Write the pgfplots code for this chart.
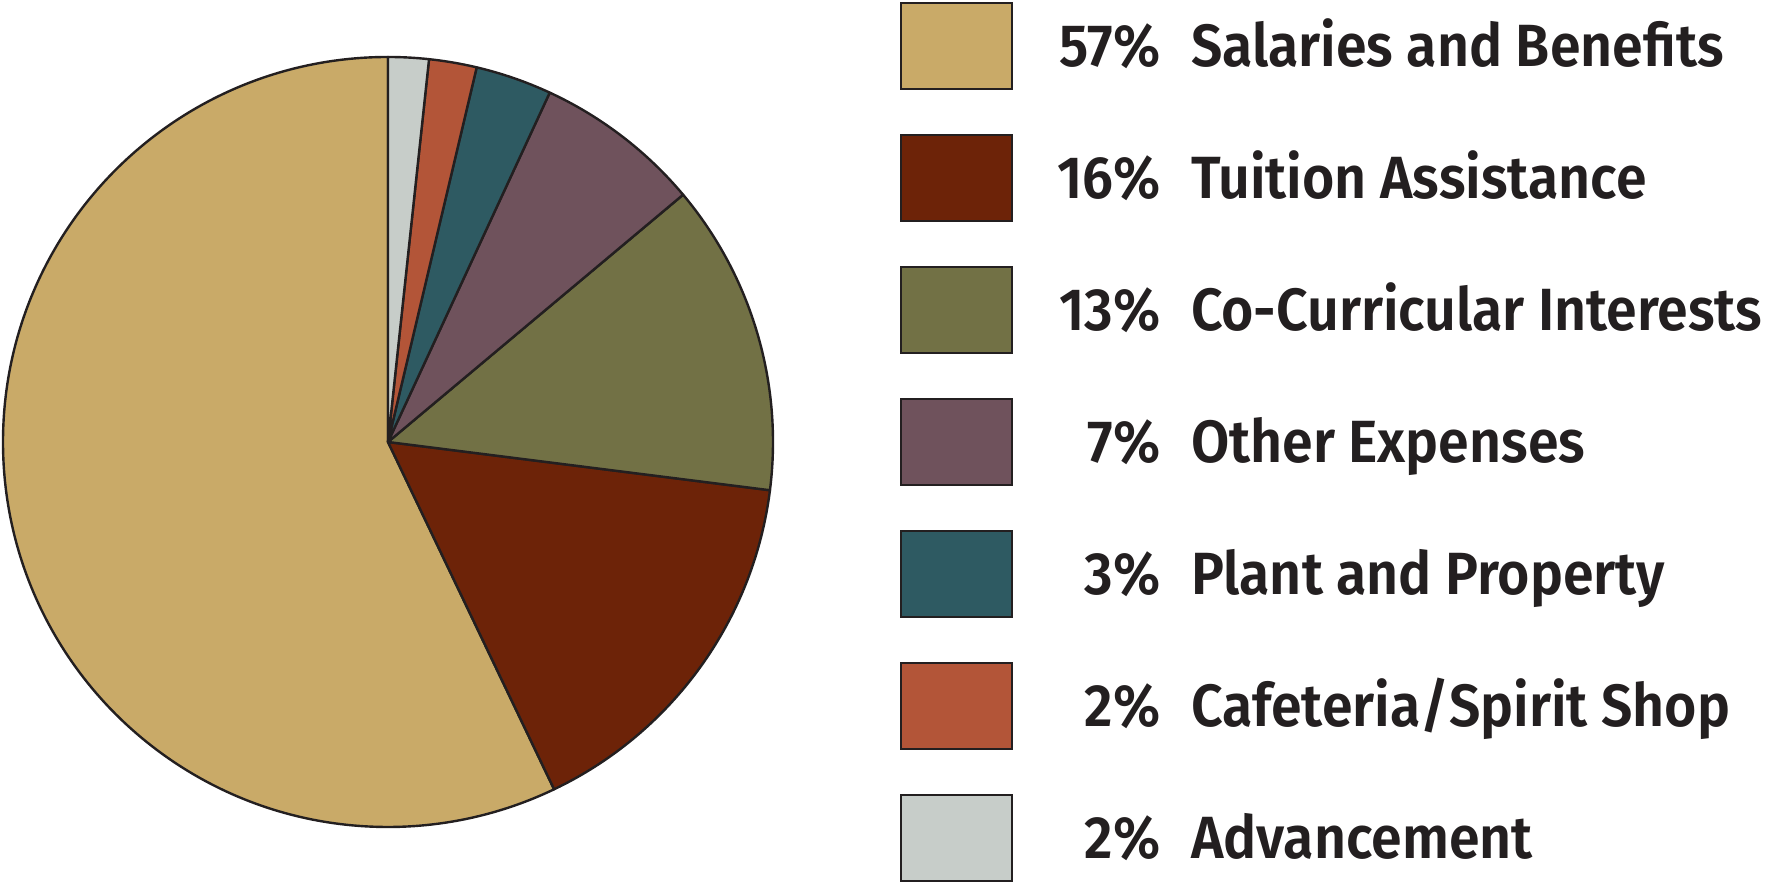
\documentclass[border=0pt]{standalone}
\usepackage{pgfplots}
\pgfplotsset{compat=1.18}
\usepackage{pgfplotstable}
\usepackage{fontspec}
\setmainfont{Fira Sans SemiBold}[FakeStretch=0.93]

\definecolor{salC}{HTML}{C9AA68}
\definecolor{tuiC}{HTML}{6D2308}
\definecolor{cocC}{HTML}{727145}
\definecolor{othC}{HTML}{6F525C}
\definecolor{plaC}{HTML}{2E5A62}
\definecolor{cafC}{HTML}{B35538}
\definecolor{advC}{HTML}{C7CDC9}
\definecolor{edgeC}{HTML}{231F20}

\pgfplotstableread[col sep=comma]{
pct,value,name,col
57,57.1,Salaries and Benefits,salC
16,15.9,Tuition Assistance,tuiC
13,13.1,Co-Curricular Interests,cocC
7,7.0,Other Expenses,othC
3,3.2,Plant and Property,plaC
2,2.0,Cafeteria/Spirit Shop,cafC
2,1.7,Advancement,advC
}\expdata

\begin{document}
\begin{tikzpicture}
\def\slices{}
\def\legendcmds{}
\def\cumangle{90}
\pgfplotstablegetrowsof{\expdata}
\pgfmathtruncatemacro\lastrow{\pgfplotsretval-1}
\pgfplotsforeachungrouped \i in {0,...,\lastrow}{%
  \pgfplotstablegetelem{\i}{value}\of\expdata \let\v\pgfplotsretval
  \pgfplotstablegetelem{\i}{col}\of\expdata \let\c\pgfplotsretval
  \pgfplotstablegetelem{\i}{pct}\of\expdata \let\p\pgfplotsretval
  \pgfplotstablegetelem{\i}{name}\of\expdata \let\n\pgfplotsretval
  \pgfmathsetmacro\endangle{\cumangle+3.6*\v}%
  \edef\slices{\unexpanded\expandafter{\slices}\noexpand\filldraw[fill=\c, draw=edgeC, line width=0.6pt, line join=round] (axis cs:388,443) -- ++(\cumangle:96.25pt) arc[start angle=\cumangle, end angle=\endangle, radius=96.25pt] -- cycle;}%
  \edef\legendcmds{\unexpanded\expandafter{\legendcmds}\noexpand\addlegendimage{fill=\c, draw=edgeC}\noexpand\addlegendentry{\noexpand\makebox[36.75pt][r]{\p\noexpand\%}\noexpand\hspace{7.65pt}\n}}%
  \let\cumangle\endangle
}
\begin{axis}[
  hide axis,
  x=0.25pt, y=0.25pt,
  xmin=0, xmax=1776, ymin=0, ymax=885,
  clip=false,
  legend cell align=left,
  legend image code/.code={\draw[line width=0.6pt] (0pt,-5.65pt) rectangle (27.75pt,15.85pt);},
  legend style={at={(axis cs:900,883)}, anchor=north west, draw=none, fill=none,
    inner sep=0pt, outer sep=0pt, row sep=10.9pt, column sep=0pt,
    font=\fontsize{14.9}{18}\selectfont, text=edgeC,
    nodes={inner sep=0pt, anchor=base west}},
]
\path (axis cs:0,0) rectangle (axis cs:1776,885);
\slices
\legendcmds
\end{axis}
\end{tikzpicture}
\end{document}
